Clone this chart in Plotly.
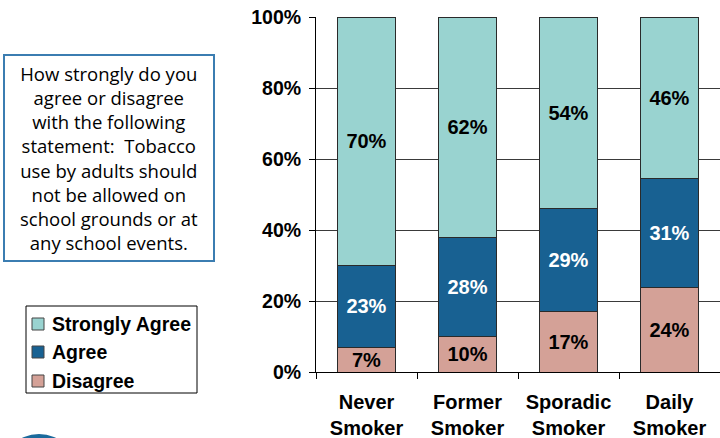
import plotly.graph_objects as go

# Survey responses by smoking status (percent of respondents)
categories = ["Never<br>Smoker", "Former<br>Smoker", "Sporadic<br>Smoker", "Daily<br>Smoker"]
disagree = [7, 10, 17, 24]
agree = [23, 28, 29, 31]
strongly_agree = [70, 62, 54, 46]
y_tick_vals = [0, 20, 40, 60, 80, 100]
y_tick_text = ["0%", "20%", "40%", "60%", "80%", "100%"]

question = ("How strongly do you<br>agree or disagree<br>with the following<br>"
            "statement:  Tobacco<br>use by adults should<br>not be allowed on<br>"
            "school grounds or at<br>any school events.")

FONT = "Liberation Sans, Arial, sans-serif"
EDGE = "#2a2a2a"

series = [
    ("Disagree", disagree, "#D4A197", "#000000"),
    ("Agree", agree, "#186192", "#FFFFFF"),
    ("Strongly Agree", strongly_agree, "#99D3D0", "#000000"),
]

# plot area in pixels: x 316..720, y 17..372
PX_L, PX_W, PX_T, PX_H = 316, 404, 17, 355


def px_x(px):
    return (px - PX_L) / PX_W


def px_y(py):
    return (PX_T + PX_H - py) / PX_H


fig = go.Figure()
for name, vals, color, txtcolor in series:
    fig.add_trace(go.Bar(
        name=name,
        x=categories,
        y=vals,
        text=[f"{v}%" for v in vals],
        textposition="inside",
        insidetextanchor="middle",
        textangle=0,
        constraintext="none",
        textfont=dict(family=FONT, size=20, color=txtcolor, weight="bold"),
        marker=dict(color=color, line=dict(color=EDGE, width=1)),
        showlegend=False,
        hoverinfo="skip",
    ))

# Legend box: framed list with swatches, top entry = last stacked series
shapes = [dict(
    type="rect", xref="paper", yref="paper",
    x0=px_x(26), x1=px_x(197), y0=px_y(393), y1=px_y(306),
    line=dict(color="#000000", width=1), fillcolor="white",
)]
annotations = []
entry_y = [324, 352, 381]
for (name, _vals, color, _tc), cy in zip(reversed(series), entry_y):
    shapes.append(dict(
        type="rect", xref="paper", yref="paper",
        x0=px_x(32), x1=px_x(44), y0=px_y(cy + 6), y1=px_y(cy - 6),
        fillcolor=color, line=dict(color="#444444", width=1),
    ))
    annotations.append(dict(
        text=name, xref="paper", yref="paper",
        x=px_x(50), y=px_y(cy), xanchor="left", yanchor="middle",
        showarrow=False,
        font=dict(family=FONT, size=19.5, color="#000000", weight="bold"),
    ))

# Question text box
annotations.append(dict(
    text=question,
    xref="paper", yref="paper",
    x=px_x(109), y=px_y(158), xanchor="center", yanchor="middle",
    showarrow=False, align="center",
    font=dict(family="Open Sans, sans-serif", size=18.5, color="#000000"),
    bordercolor="#3B7DB1", borderwidth=2, borderpad=4,
    width=200, height=196,
    bgcolor="white",
))

# Partial logo disc at the lower-left corner
shapes.append(dict(
    type="circle", xref="paper", yref="paper",
    x0=px_x(0), x1=px_x(78), y0=px_y(512), y1=px_y(434),
    fillcolor="#1B6A9C", line=dict(width=0), layer="above",
))

fig.update_layout(
    width=720,
    height=438,
    margin=dict(l=316, r=0, t=17, b=66),
    barmode="stack",
    barnorm="percent",
    bargap=0.43,
    plot_bgcolor="white",
    paper_bgcolor="white",
    showlegend=False,
    uniformtext=dict(minsize=20, mode="show"),
    xaxis=dict(
        showline=True, linecolor="#000000", linewidth=1,
        ticks="outside", ticklen=6, tickcolor="#000000",
        tickson="boundaries",
        tickfont=dict(family=FONT, size=20, color="#000000", weight="bold"),
        ticklabelstandoff=12,
        showgrid=False,
        range=[-0.5, 3.5],
    ),
    yaxis=dict(
        range=[0, 100],
        tickvals=y_tick_vals,
        ticktext=y_tick_text,
        showline=True, linecolor="#000000", linewidth=1,
        ticks="outside", ticklen=6, tickcolor="#000000",
        tickfont=dict(family=FONT, size=19.5, color="#000000", weight="bold"),
        showgrid=True, gridcolor="#3a3a3a", gridwidth=1,
        zeroline=False,
        ticklabelstandoff=4,
    ),
    annotations=annotations,
    shapes=shapes,
)

fig.write_html("out.html")
